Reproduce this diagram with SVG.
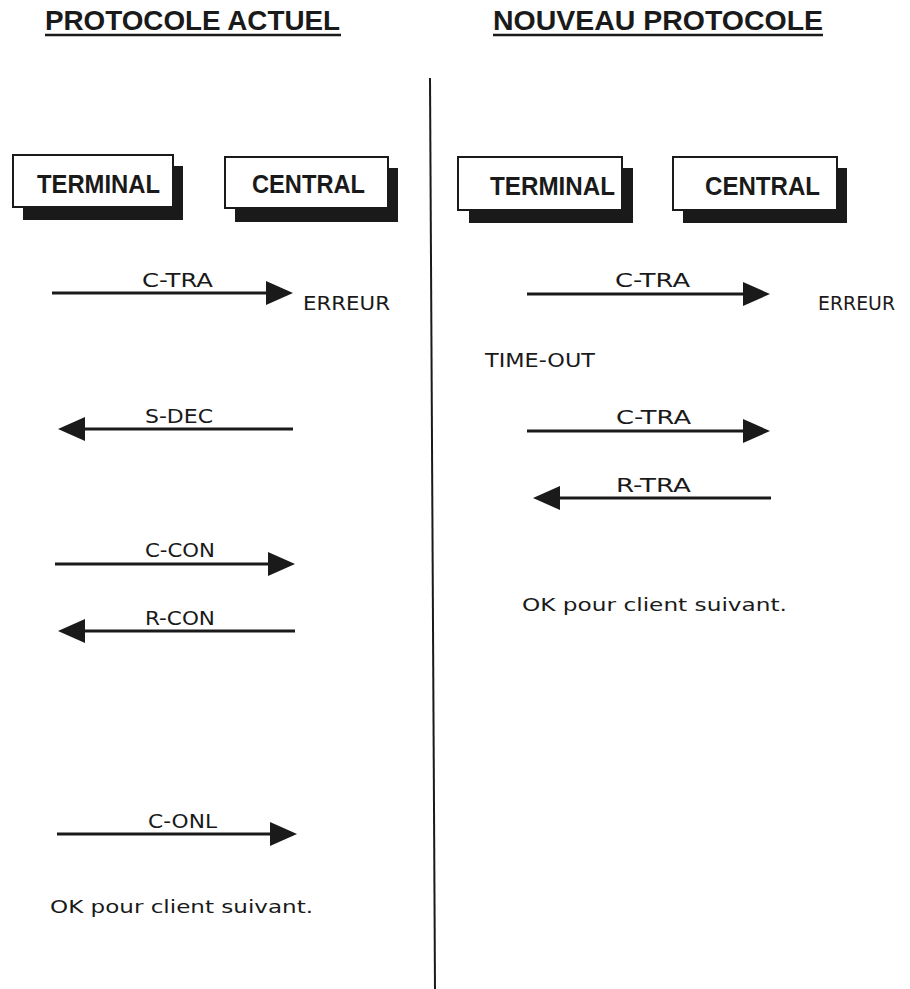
<svg xmlns="http://www.w3.org/2000/svg" width="910" height="989" viewBox="0 0 910 989">
  <style>
    .title { font-family: "Liberation Sans", Arial, sans-serif; font-weight: bold; font-size: 28px; fill: #1a1a1a; }
    .uline { stroke: #1a1a1a; stroke-width: 2.5; }
    .box { fill: #ffffff; stroke: #1a1a1a; stroke-width: 2; }
    .shadow { fill: #1a1a1a; }
    .boxlabel { font-family: "Liberation Sans", Arial, sans-serif; font-weight: bold; font-size: 25px; fill: #1a1a1a; }
    .msg { stroke: #1a1a1a; stroke-width: 3; fill: none; marker-end: url(#head); }
    .lbl { font-family: "DejaVu Sans", "Liberation Sans", sans-serif; font-size: 19px; fill: #1a1a1a; }
    .note { font-family: "DejaVu Sans", "Liberation Sans", sans-serif; font-size: 18px; fill: #1a1a1a; }
    .divider { stroke: #1a1a1a; stroke-width: 2; }
  </style>
  <defs>
    <marker id="head" viewBox="0 0 27 24" refX="20" refY="12" markerWidth="27" markerHeight="24" markerUnits="userSpaceOnUse" orient="auto">
      <path d="M0,0 L27,12 L0,24 Z" fill="#1a1a1a"/>
    </marker>
  </defs>

  <rect width="910" height="989" fill="#ffffff"/>

  <!-- column headings -->
  <g id="title-actuel">
    <text class="title" x="45" y="30" textLength="295" lengthAdjust="spacingAndGlyphs">PROTOCOLE ACTUEL</text>
    <line class="uline" x1="45" y1="35" x2="341" y2="35"/>
  </g>
  <g id="title-nouveau">
    <text class="title" x="493" y="30" textLength="330" lengthAdjust="spacingAndGlyphs">NOUVEAU PROTOCOLE</text>
    <line class="uline" x1="493" y1="35" x2="823" y2="35"/>
  </g>

  <!-- separator between the two protocols -->
  <line class="divider" x1="430" y1="78" x2="435" y2="989"/>

  <!-- participants, current protocol -->
  <g id="terminal-actuel">
    <rect class="shadow" x="23" y="166" width="160" height="54"/>
    <rect class="box" x="13" y="155" width="160" height="52"/>
    <text class="boxlabel" x="37" y="193" textLength="123" lengthAdjust="spacingAndGlyphs">TERMINAL</text>
  </g>
  <g id="central-actuel">
    <rect class="shadow" x="235" y="168" width="163" height="54"/>
    <rect class="box" x="225" y="157" width="163" height="51"/>
    <text class="boxlabel" x="252" y="193" textLength="113" lengthAdjust="spacingAndGlyphs">CENTRAL</text>
  </g>

  <!-- participants, new protocol -->
  <g id="terminal-nouveau">
    <rect class="shadow" x="469" y="168" width="164" height="55"/>
    <rect class="box" x="458" y="157" width="164" height="53"/>
    <text class="boxlabel" x="490" y="195" textLength="125" lengthAdjust="spacingAndGlyphs">TERMINAL</text>
  </g>
  <g id="central-nouveau">
    <rect class="shadow" x="683" y="168" width="164" height="55"/>
    <rect class="box" x="673" y="157" width="164" height="53"/>
    <text class="boxlabel" x="705" y="195" textLength="115" lengthAdjust="spacingAndGlyphs">CENTRAL</text>
  </g>

  <!-- messages -->
  <g id="messages">
    <!-- current protocol -->
    <line class="msg" x1="52" y1="293" x2="286" y2="293"/>
    <line class="msg" x1="293" y1="429" x2="65" y2="429"/>
    <line class="msg" x1="55" y1="564" x2="288" y2="564"/>
    <line class="msg" x1="295" y1="631" x2="65" y2="631"/>
    <line class="msg" x1="57" y1="834" x2="290" y2="834"/>
    <!-- new protocol -->
    <line class="msg" x1="527" y1="294" x2="763" y2="294"/>
    <line class="msg" x1="527" y1="431" x2="763" y2="431"/>
    <line class="msg" x1="771" y1="498" x2="540" y2="498"/>
  </g>

  <!-- message labels and notes, current protocol -->
  <g id="labels-actuel">
    <text class="lbl" x="142" y="287" textLength="71" lengthAdjust="spacingAndGlyphs">C-TRA</text>
    <text class="lbl" x="303" y="310" textLength="87" lengthAdjust="spacingAndGlyphs">ERREUR</text>
    <text class="lbl" x="145" y="423" textLength="68" lengthAdjust="spacingAndGlyphs">S-DEC</text>
    <text class="lbl" x="145" y="557" textLength="70" lengthAdjust="spacingAndGlyphs">C-CON</text>
    <text class="lbl" x="145" y="625" textLength="70" lengthAdjust="spacingAndGlyphs">R-CON</text>
    <text class="lbl" x="148" y="828" textLength="69" lengthAdjust="spacingAndGlyphs">C-ONL</text>
    <text class="note" x="50" y="913" textLength="263" lengthAdjust="spacingAndGlyphs">OK pour client suivant.</text>
  </g>

  <!-- message labels and notes, new protocol -->
  <g id="labels-nouveau">
    <text class="lbl" x="615" y="287" textLength="75" lengthAdjust="spacingAndGlyphs">C-TRA</text>
    <text class="lbl" x="818" y="310" textLength="77" lengthAdjust="spacingAndGlyphs">ERREUR</text>
    <text class="lbl" x="485" y="367" textLength="110" lengthAdjust="spacingAndGlyphs">TIME-OUT</text>
    <text class="lbl" x="616" y="424" textLength="75" lengthAdjust="spacingAndGlyphs">C-TRA</text>
    <text class="lbl" x="616" y="492" textLength="75" lengthAdjust="spacingAndGlyphs">R-TRA</text>
    <text class="note" x="522" y="611" textLength="265" lengthAdjust="spacingAndGlyphs">OK pour client suivant.</text>
  </g>
</svg>
